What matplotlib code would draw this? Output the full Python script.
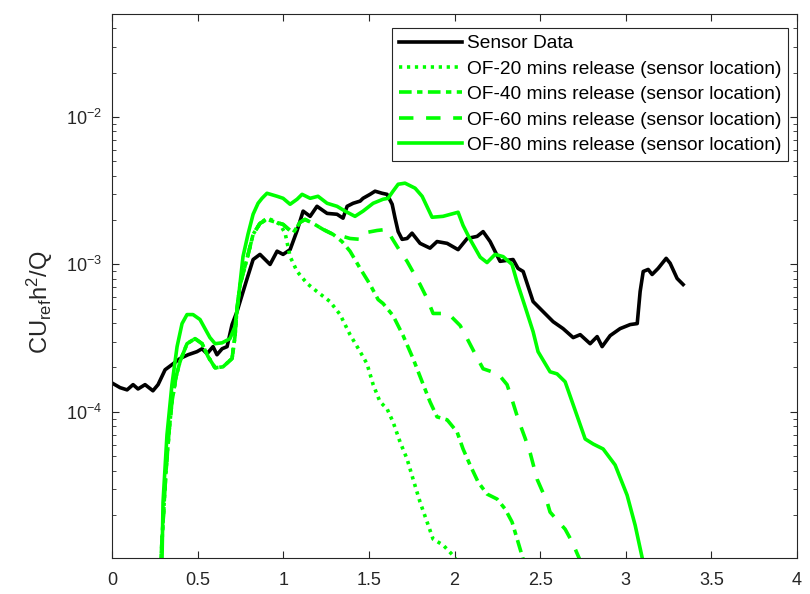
import matplotlib
matplotlib.use('Agg')
import matplotlib.pyplot as plt
from matplotlib.ticker import FixedLocator, FormatStrFormatter, LogLocator, NullFormatter

plt.rcParams['font.family'] = ['Liberation Sans', 'DejaVu Sans']
plt.rcParams['mathtext.fontset'] = 'custom'
plt.rcParams['mathtext.rm'] = 'Liberation Sans'
plt.rcParams['mathtext.it'] = 'Liberation Sans:italic'

# sensor data
x_sensor = [0.000, 0.047, 0.088, 0.123, 0.152, 0.193, 0.239, 0.269, 0.310, 0.350,
            0.397, 0.444, 0.496, 0.526, 0.555, 0.590, 0.613, 0.643, 0.672, 0.701,
            0.730, 0.789, 0.824, 0.864, 0.923, 0.964, 0.999, 1.040, 1.081, 1.116,
            1.157, 1.197, 1.256, 1.314, 1.349, 1.373, 1.408, 1.449, 1.466, 1.507,
            1.536, 1.577, 1.606, 1.636, 1.653, 1.671, 1.694, 1.723, 1.752, 1.799,
            1.857, 1.898, 1.957, 2.021, 2.074, 2.132, 2.167, 2.208, 2.266, 2.342,
            2.371, 2.401, 2.459, 2.517, 2.576, 2.634, 2.693, 2.734, 2.792, 2.833,
            2.862, 2.909, 2.967, 3.026, 3.067, 3.084, 3.102, 3.131, 3.154, 3.189,
            3.236, 3.259, 3.300, 3.335]
y_sensor = [1.57e-4, 1.46e-4, 1.41e-4, 1.53e-4, 1.43e-4, 1.53e-4, 1.39e-4, 1.53e-4, 1.93e-4, 2.09e-4,
            2.30e-4, 2.44e-4, 2.56e-4, 2.68e-4, 2.48e-4, 2.77e-4, 2.44e-4, 2.68e-4, 2.77e-4, 3.91e-4,
            4.79e-4, 8.03e-4, 1.08e-3, 1.17e-3, 1.00e-3, 1.23e-3, 1.17e-3, 1.26e-3, 1.70e-3, 2.30e-3,
            2.12e-3, 2.48e-3, 2.22e-3, 2.19e-3, 2.06e-3, 2.48e-3, 2.60e-3, 2.69e-3, 2.81e-3, 2.99e-3,
            3.14e-3, 3.04e-3, 2.99e-3, 2.56e-3, 2.06e-3, 1.67e-3, 1.48e-3, 1.50e-3, 1.63e-3, 1.39e-3,
            1.29e-3, 1.43e-3, 1.39e-3, 1.26e-3, 1.50e-3, 1.55e-3, 1.67e-3, 1.43e-3, 1.05e-3, 1.08e-3,
            9.40e-4, 8.96e-4, 5.60e-4, 4.79e-4, 4.09e-4, 3.67e-4, 3.19e-4, 3.34e-4, 2.90e-4, 3.24e-4,
            2.77e-4, 3.29e-4, 3.67e-4, 3.91e-4, 3.97e-4, 6.55e-4, 8.96e-4, 9.25e-4, 8.55e-4, 9.40e-4,
            1.10e-3, 1.02e-3, 8.03e-4, 7.31e-4]

# OF-20 mins release
x_of20 = [0.280, 0.298, 0.315, 0.333, 0.350, 0.374, 0.397, 0.438, 0.485, 0.526,
          0.561, 0.602, 0.648, 0.701, 0.718, 0.730, 0.748, 0.789, 0.824, 0.864,
          0.905, 0.940, 0.981, 1.011, 1.040, 1.081, 1.139, 1.197, 1.273, 1.332,
          1.390, 1.449, 1.489, 1.525, 1.565, 1.606, 1.641, 1.682, 1.723, 1.758,
          1.799, 1.840, 1.875, 1.933, 1.992, 2.021]
y_of20 = [7.55e-6, 1.79e-5, 3.91e-5, 7.31e-5, 1.17e-4, 1.73e-4, 2.19e-4, 2.90e-4, 3.14e-4, 2.90e-4,
          2.37e-4, 1.99e-4, 2.02e-4, 2.30e-4, 3.24e-4, 5.02e-4, 7.31e-4, 1.10e-3, 1.60e-3, 1.90e-3,
          2.06e-3, 1.99e-3, 1.87e-3, 1.63e-3, 1.13e-3, 8.96e-4, 7.43e-4, 6.55e-4, 5.60e-4, 4.57e-4,
          3.34e-4, 2.56e-4, 2.12e-4, 1.53e-4, 1.17e-4, 1.05e-4, 8.55e-5, 6.25e-5, 4.79e-5, 3.50e-5,
          2.44e-5, 1.79e-5, 1.37e-5, 1.25e-5, 1.06e-5, 9.5e-6]

# OF-40 mins release
x_of40 = [0.280, 0.298, 0.315, 0.333, 0.350, 0.374, 0.397, 0.438, 0.485, 0.526,
          0.561, 0.602, 0.648, 0.701, 0.718, 0.730, 0.748, 0.789, 0.824, 0.864,
          0.905, 0.940, 0.999, 1.057, 1.098, 1.127, 1.174, 1.232, 1.291, 1.343,
          1.390, 1.449, 1.507, 1.554, 1.583, 1.641, 1.700, 1.758, 1.811, 1.857,
          1.898, 1.957, 2.015, 2.050, 2.091, 2.138, 2.190, 2.249, 2.296, 2.336,
          2.366, 2.401, 2.418]
y_of40 = [7.55e-6, 1.79e-5, 3.91e-5, 7.31e-5, 1.17e-4, 1.73e-4, 2.19e-4, 2.90e-4, 3.14e-4, 2.90e-4,
          2.37e-4, 1.99e-4, 2.02e-4, 2.30e-4, 3.24e-4, 5.02e-4, 7.31e-4, 1.10e-3, 1.60e-3, 1.90e-3,
          2.02e-3, 1.96e-3, 1.87e-3, 1.63e-3, 1.93e-3, 2.02e-3, 1.90e-3, 1.73e-3, 1.60e-3, 1.43e-3,
          1.23e-3, 9.40e-4, 7.31e-4, 5.78e-4, 5.43e-4, 4.50e-4, 3.29e-4, 2.30e-4, 1.60e-4, 1.17e-4,
          9.25e-5, 8.83e-5, 7.31e-5, 5.60e-5, 4.36e-5, 3.34e-5, 2.77e-5, 2.56e-5, 2.19e-5, 1.79e-5,
          1.37e-5, 1.00e-5, 8.2e-6]

# OF-60 mins release
x_of60 = [0.280, 0.298, 0.315, 0.333, 0.350, 0.374, 0.397, 0.438, 0.485, 0.526,
          0.561, 0.602, 0.648, 0.701, 0.718, 0.730, 0.748, 0.789, 0.824, 0.864,
          0.905, 0.940, 0.999, 1.057, 1.098, 1.127, 1.174, 1.232, 1.291, 1.332,
          1.390, 1.449, 1.489, 1.548, 1.606, 1.636, 1.682, 1.723, 1.799, 1.840,
          1.875, 1.916, 1.963, 2.033, 2.074, 2.132, 2.167, 2.255, 2.307, 2.342,
          2.371, 2.412, 2.442, 2.482, 2.541, 2.558, 2.646, 2.687, 2.734, 2.751]
y_of60 = [7.55e-6, 1.79e-5, 3.91e-5, 7.31e-5, 1.17e-4, 1.73e-4, 2.19e-4, 2.90e-4, 3.14e-4, 2.90e-4,
          2.37e-4, 1.99e-4, 2.02e-4, 2.30e-4, 3.24e-4, 5.02e-4, 7.31e-4, 1.10e-3, 1.60e-3, 1.90e-3,
          2.02e-3, 1.96e-3, 1.87e-3, 1.63e-3, 1.93e-3, 2.02e-3, 1.90e-3, 1.73e-3, 1.60e-3, 1.57e-3,
          1.50e-3, 1.48e-3, 1.65e-3, 1.70e-3, 1.73e-3, 1.50e-3, 1.23e-3, 1.05e-3, 7.31e-4, 5.87e-4,
          4.65e-4, 4.65e-4, 4.65e-4, 3.85e-4, 3.14e-4, 2.33e-4, 1.96e-4, 1.81e-4, 1.53e-4, 1.15e-4,
          8.96e-5, 6.65e-5, 5.26e-5, 3.50e-5, 2.44e-5, 2.09e-5, 1.60e-5, 1.31e-5, 9.8e-6, 8.2e-6]

# OF-80 mins release
x_of80 = [0.285, 0.292, 0.298, 0.321, 0.350, 0.380, 0.409, 0.438, 0.473, 0.514,
          0.543, 0.572, 0.602, 0.643, 0.689, 0.718, 0.736, 0.765, 0.794, 0.824,
          0.853, 0.876, 0.905, 0.964, 0.999, 1.040, 1.081, 1.110, 1.157, 1.203,
          1.256, 1.314, 1.361, 1.419, 1.466, 1.525, 1.583, 1.612, 1.641, 1.671,
          1.711, 1.770, 1.811, 1.869, 1.933, 2.021, 2.050, 2.091, 2.150, 2.190,
          2.237, 2.284, 2.336, 2.366, 2.412, 2.459, 2.488, 2.558, 2.599, 2.646,
          2.722, 2.763, 2.810, 2.868, 2.938, 3.008, 3.055, 3.102, 3.115]
y_of80 = [7.0e-6, 9.8e-6, 2.44e-5, 6.98e-5, 1.53e-4, 2.77e-4, 3.97e-4, 4.57e-4, 4.57e-4, 4.23e-4,
          3.67e-4, 3.19e-4, 2.90e-4, 2.94e-4, 3.14e-4, 3.79e-4, 5.60e-4, 1.13e-3, 1.60e-3, 2.19e-3,
          2.60e-3, 2.81e-3, 3.04e-3, 2.90e-3, 2.81e-3, 2.56e-3, 2.77e-3, 2.99e-3, 2.81e-3, 2.90e-3,
          2.60e-3, 2.48e-3, 2.30e-3, 2.12e-3, 2.30e-3, 2.60e-3, 2.77e-3, 2.81e-3, 3.14e-3, 3.50e-3,
          3.56e-3, 3.29e-3, 2.90e-3, 2.09e-3, 2.12e-3, 2.26e-3, 1.84e-3, 1.48e-3, 1.12e-3, 1.03e-3,
          1.17e-3, 1.13e-3, 1.00e-3, 7.55e-4, 5.18e-4, 3.50e-4, 2.56e-4, 1.87e-4, 1.81e-4, 1.60e-4,
          8.96e-5, 6.55e-5, 6.05e-5, 5.60e-5, 4.36e-5, 2.72e-5, 1.70e-5, 9.5e-6, 8.0e-6]

green = (0, 1, 0)
lw = 2.6

fig = plt.figure(figsize=(8.1, 5.94), dpi=100)
ax = fig.add_axes([112 / 810, 36 / 594, 685 / 810, 544 / 594])

ax.plot(x_sensor, y_sensor, color='k', lw=lw, label='Sensor Data')
ax.plot(x_of20, y_of20, color=green, lw=lw, linestyle=(0, (0.9, 1.3)),
        label='OF-20 mins release (sensor location)')
ax.plot(x_of40, y_of40, color=green, lw=lw, linestyle=(0, (3.5, 1.5, 1.5, 1.5)),
        label='OF-40 mins release (sensor location)')
ax.plot(x_of60, y_of60, color=green, lw=lw, linestyle=(0, (4, 3.5)),
        label='OF-60 mins release (sensor location)')
ax.plot(x_of80, y_of80, color=green, lw=lw, label='OF-80 mins release (sensor location)')

ax.set_yscale('log')
ax.set_xlim(0, 4)
ax.set_ylim(1.02e-5, 0.05)

ax.set_xticks([0, 0.5, 1, 1.5, 2, 2.5, 3, 3.5, 4])
ax.xaxis.set_major_formatter(FormatStrFormatter('%g'))
ax.yaxis.set_major_locator(FixedLocator([1e-4, 1e-3, 1e-2]))
ax.set_yticklabels([r'$10^{-4}$', r'$10^{-3}$', r'$10^{-2}$'])
ax.yaxis.set_minor_locator(LogLocator(base=10, subs=range(2, 10), numticks=20))
ax.yaxis.set_minor_formatter(NullFormatter())

axis_col = (0.15, 0.15, 0.15)
for s in ax.spines.values():
    s.set_color(axis_col)
    s.set_linewidth(0.8)
ax.tick_params(which='both', direction='in', top=True, right=True, colors=axis_col,
               labelcolor=axis_col, labelsize=13)
ax.tick_params(which='major', length=5)
ax.tick_params(which='minor', length=3)
ax.tick_params(axis='x', pad=10)
ax.tick_params(axis='y', pad=7)

ax.set_ylabel(r'CU$_{\rm ref}$h$^2$/Q', fontsize=17, color=axis_col)
ax.yaxis.set_label_coords(-0.083, 0.47)

leg = ax.legend(loc='upper right', bbox_to_anchor=(0.987, 0.974), borderaxespad=0,
                fontsize=13.8, frameon=True, fancybox=False,
                handlelength=3.3, handletextpad=0.25, borderpad=0.35, labelspacing=0.42)
leg.get_frame().set_edgecolor(axis_col)
leg.get_frame().set_linewidth(0.8)
leg.get_frame().set_alpha(1)

fig.savefig('out.png', dpi=100)
